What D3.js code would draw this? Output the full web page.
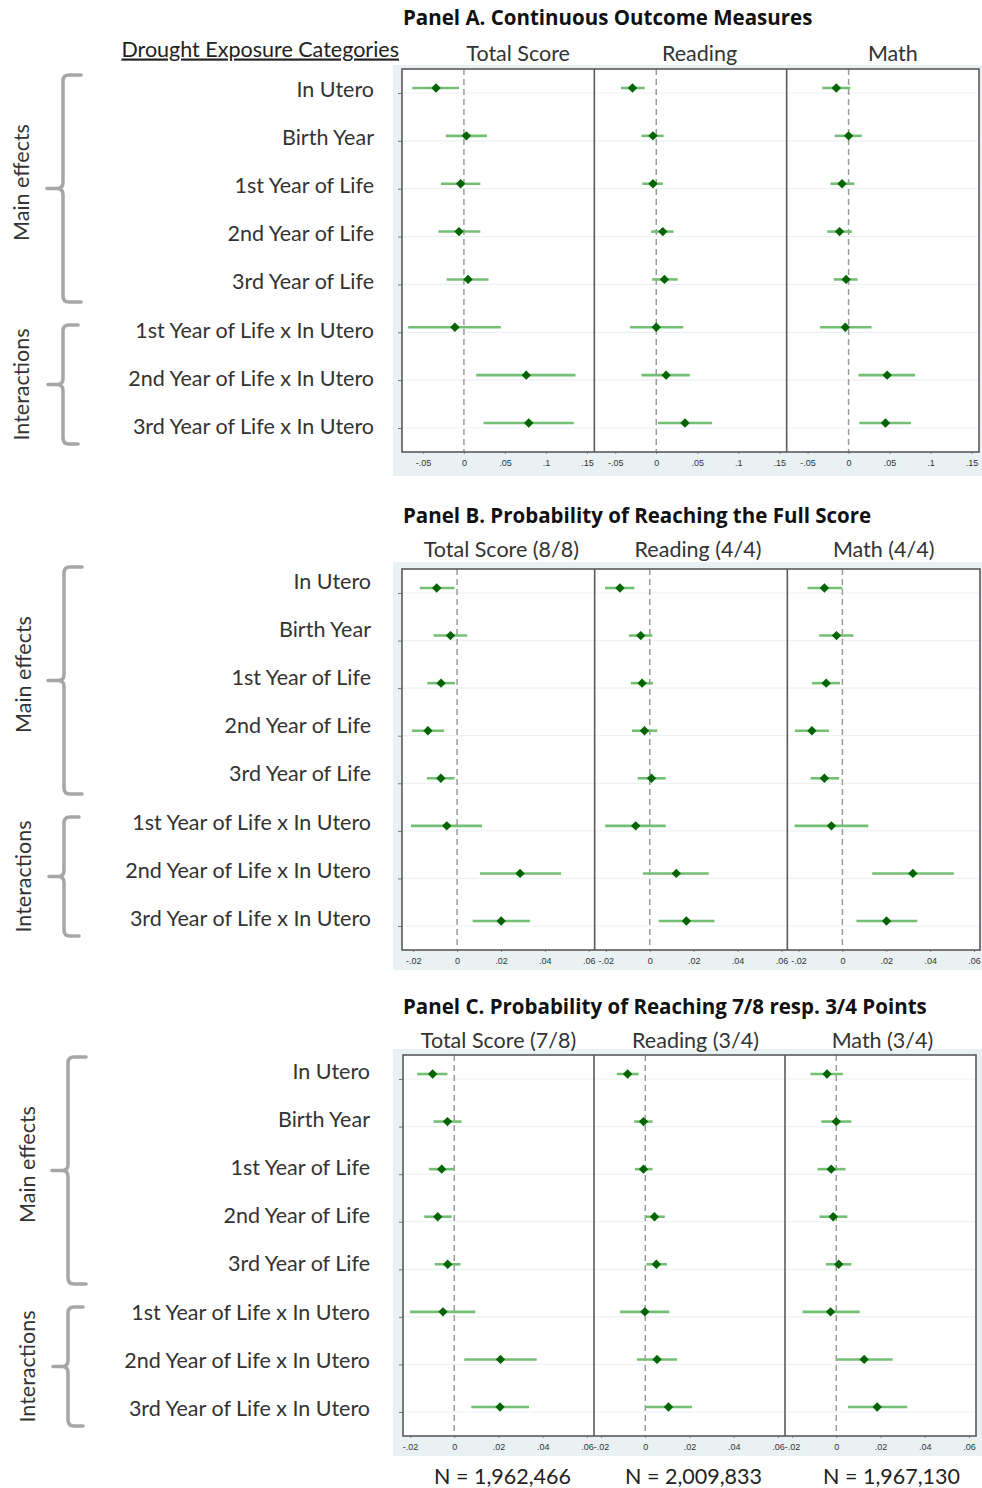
<!DOCTYPE html>
<html>
<head>
<meta charset="utf-8">
<script src="https://cdn.jsdelivr.net/npm/d3@7"></script>
<style>
  body { margin: 0; background: #fff; }
  svg { display: block; }
</style>
</head>
<body>
<div id="chart"></div>
<script>
// drought exposure categories (rows)
const rows = [
  "In Utero",
  "Birth Year",
  "1st Year of Life",
  "2nd Year of Life",
  "3rd Year of Life",
  "1st Year of Life x In Utero",
  "2nd Year of Life x In Utero",
  "3rd Year of Life x In Utero"
];

const panelTitles = [
  "Panel A. Continuous Outcome Measures",
  "Panel B. Probability of Reaching the Full Score",
  "Panel C. Probability of Reaching 7/8 resp. 3/4 Points"
];
const colTitlesA = ["Total Score", "Reading", "Math"];
const colTitlesB = ["Total Score (8/8)", "Reading (4/4)", "Math (4/4)"];
const colTitlesC = ["Total Score (7/8)", "Reading (3/4)", "Math (3/4)"];
const nLabels = ["N = 1,962,466", "N = 2,009,833", "N = 1,967,130"];

const ticksA = [-0.05, 0, 0.05, 0.1, 0.15];
const tickLabelsA = ["-.05", "0", ".05", ".1", ".15"];
const ticksBC = [-0.02, 0, 0.02, 0.04, 0.06];
const tickLabelsBC = ["-.02", "0", ".02", ".04", ".06"];

// [coefficient, lower CI, upper CI] per row
const A_total = [[-0.034,-0.063,-0.006],[0.003,-0.022,0.028],[-0.004,-0.028,0.020],[-0.006,-0.031,0.020],[0.005,-0.021,0.030],[-0.011,-0.068,0.045],[0.076,0.015,0.136],[0.079,0.024,0.134]];
const A_read  = [[-0.029,-0.043,-0.014],[-0.004,-0.018,0.009],[-0.004,-0.017,0.008],[0.008,-0.006,0.021],[0.010,-0.005,0.026],[0.000,-0.032,0.033],[0.012,-0.018,0.041],[0.035,0.002,0.068]];
const A_math  = [[-0.015,-0.032,0.002],[0.000,-0.017,0.016],[-0.008,-0.022,0.007],[-0.011,-0.026,0.004],[-0.003,-0.018,0.011],[-0.004,-0.035,0.028],[0.047,0.012,0.081],[0.045,0.013,0.076]];

const B_total = [[-0.0093,-0.0170,-0.0012],[-0.0030,-0.0107,0.0046],[-0.0073,-0.0136,-0.0010],[-0.0133,-0.0206,-0.0059],[-0.0074,-0.0138,-0.0012],[-0.0047,-0.0210,0.0114],[0.0287,0.0104,0.0474],[0.0201,0.0071,0.0333]];
const B_read  = [[-0.0136,-0.0204,-0.0070],[-0.0041,-0.0095,0.0012],[-0.0035,-0.0086,0.0015],[-0.0024,-0.0081,0.0034],[0.0008,-0.0055,0.0073],[-0.0064,-0.0203,0.0073],[0.0121,-0.0031,0.0269],[0.0167,0.0041,0.0295]];
const B_math  = [[-0.0082,-0.0159,0.0000],[-0.0027,-0.0106,0.0050],[-0.0074,-0.0139,-0.0011],[-0.0139,-0.0217,-0.0061],[-0.0082,-0.0145,-0.0015],[-0.0050,-0.0218,0.0118],[0.0321,0.0136,0.0508],[0.0201,0.0064,0.0341]];

const C_total = [[-0.0098,-0.0168,-0.0031],[-0.0031,-0.0094,0.0033],[-0.0057,-0.0115,0.0000],[-0.0075,-0.0136,-0.0012],[-0.0030,-0.0088,0.0028],[-0.0051,-0.0200,0.0095],[0.0209,0.0045,0.0373],[0.0207,0.0077,0.0338]];
const C_read  = [[-0.0080,-0.0129,-0.0030],[-0.0008,-0.0050,0.0033],[-0.0008,-0.0047,0.0033],[0.0042,-0.0002,0.0088],[0.0050,0.0005,0.0098],[-0.0002,-0.0114,0.0109],[0.0053,-0.0038,0.0144],[0.0105,0.0002,0.0211]];
const C_math  = [[-0.0042,-0.0117,0.0030],[0.0000,-0.0068,0.0068],[-0.0023,-0.0085,0.0042],[-0.0014,-0.0076,0.0050],[0.0011,-0.0047,0.0068],[-0.0026,-0.0153,0.0106],[0.0126,0.0000,0.0255],[0.0185,0.0053,0.0321]];

const width = 982;
const height = 1488;
const font = "Lato, 'Open Sans', sans-serif";
const titleFont = "'Open Sans', Lato, sans-serif";
const fs = 21.5;

const svg = d3
  .select("#chart")
  .append("svg")
  .attr("width", width)
  .attr("height", height)
  .attr("viewBox", [0, 0, width, height]);

svg.append("rect").attr("width", width).attr("height", height).attr("fill", "#fff");

const panels = [
  {
    title: panelTitles[0], cols: colTitlesA, est: [A_total, A_read, A_math],
    ticks: ticksA, tickLabels: tickLabelsA, domain: [-0.0755, 0.159],
    x0: 402, x1: 979, y0: 69, y1: 452, bg: [393, 65, 476],
    titleY: 18, headY: 53, headShift: [20, 9, 10],
    labelTop: 89, labelRight: 374, bracketX: 63, sideX: 21
  },
  {
    title: panelTitles[1], cols: colTitlesB, est: [B_total, B_read, B_math],
    ticks: ticksBC, tickLabels: tickLabelsBC, domain: [-0.0251, 0.0627],
    x0: 402, x1: 980, y0: 569, y1: 950, bg: [393, 562, 970],
    titleY: 516, headY: 549, headShift: [3, 7, 0],
    labelTop: 581, labelRight: 371, bracketX: 64, sideX: 23
  },
  {
    title: panelTitles[2], cols: colTitlesC, est: [C_total, C_read, C_math],
    ticks: ticksBC, tickLabels: tickLabelsBC, domain: [-0.0232, 0.0632],
    x0: 403, x1: 976, y0: 1055, y1: 1436, bg: [393, 1049, 1456],
    titleY: 1007, headY: 1040, headShift: [0, 6, 2],
    labelTop: 1071, labelRight: 370, bracketX: 68, sideX: 27
  }
];

function drawBracket(g, x, top, bottom, arm, nub) {
  const mid = (top + bottom) / 2;
  const r = 6;
  const p = d3.path();
  p.moveTo(x + arm, top);
  p.lineTo(x + r, top);
  p.quadraticCurveTo(x, top, x, top + r);
  p.lineTo(x, mid - r);
  p.quadraticCurveTo(x, mid, x - r, mid);
  p.lineTo(x - nub, mid);
  p.moveTo(x - r, mid);
  p.quadraticCurveTo(x, mid, x, mid + r);
  p.lineTo(x, bottom - r);
  p.quadraticCurveTo(x, bottom, x + r, bottom);
  p.lineTo(x + arm, bottom);
  g.append("path")
    .attr("d", p.toString())
    .attr("fill", "none")
    .attr("stroke", "#a6a6a6")
    .attr("stroke-width", 3.5)
    .attr("stroke-linecap", "round");
}

panels.forEach((P, pi) => {
  const g = svg.append("g");

  // grey graph region
  g.append("rect")
    .attr("x", P.bg[0])
    .attr("y", P.bg[1])
    .attr("width", width - P.bg[0])
    .attr("height", P.bg[2] - P.bg[1])
    .attr("fill", "#eaf1f3");

  g.append("text")
    .attr("x", 403)
    .attr("y", P.titleY)
    .attr("dy", "0.35em")
    .attr("font-family", titleFont)
    .attr("font-weight", "bold")
    .attr("font-size", 20.5)
    .attr("fill", "#111")
    .text(P.title);

  if (pi === 0) {
    g.append("text")
      .attr("x", 399)
      .attr("y", 49)
      .attr("dy", "0.35em")
      .attr("text-anchor", "end")
      .attr("font-family", font)
      .attr("font-size", fs)
      .attr("fill", "#222")
      .attr("text-decoration", "underline")
      .text("Drought Exposure Categories");
  }

  const y = d3.scalePoint().domain(rows).range([P.y0 + 24, P.y1 - 24]);
  const colW = (P.x1 - P.x0) / 3;

  g.append("rect")
    .attr("x", P.x0)
    .attr("y", P.y0)
    .attr("width", P.x1 - P.x0)
    .attr("height", P.y1 - P.y0)
    .attr("fill", "#fff");

  // row ticks on the left edge
  g.append("g")
    .attr("transform", `translate(${P.x0},0)`)
    .call(d3.axisLeft(y).tickSize(4).tickFormat(""))
    .call((a) => a.select(".domain").remove())
    .selectAll("line")
    .attr("stroke", "#777");

  P.est.forEach((est, ci) => {
    const x = d3
      .scaleLinear()
      .domain(P.domain)
      .range([P.x0 + ci * colW, P.x0 + (ci + 1) * colW]);
    const cg = g.append("g");

    cg.selectAll(".grid")
      .data(rows)
      .join("line")
      .attr("x1", P.x0 + ci * colW)
      .attr("x2", P.x0 + (ci + 1) * colW)
      .attr("y1", (d) => y(d))
      .attr("y2", (d) => y(d))
      .attr("stroke", "#edf2f3")
      .attr("stroke-width", 1.2);

    cg.append("line")
      .attr("x1", x(0))
      .attr("x2", x(0))
      .attr("y1", P.y0)
      .attr("y2", P.y1)
      .attr("stroke", "#9a9a9a")
      .attr("stroke-width", 1.5)
      .attr("stroke-dasharray", "6,4");

    cg.selectAll(".ci")
      .data(est)
      .join("line")
      .attr("x1", (d) => x(d[1]))
      .attr("x2", (d) => x(d[2]))
      .attr("y1", (d, i) => y(rows[i]) - 5)
      .attr("y2", (d, i) => y(rows[i]) - 5)
      .attr("stroke", "#73c073")
      .attr("stroke-width", 2.6);

    cg.selectAll(".pt")
      .data(est)
      .join("path")
      .attr("d", d3.symbol(d3.symbolDiamond2, 56))
      .attr("transform", (d, i) => `translate(${x(d[0])},${y(rows[i]) - 5})`)
      .attr("fill", "#006400");

    const ax = cg
      .append("g")
      .attr("transform", `translate(0,${P.y1})`)
      .call(
        d3.axisBottom(x)
          .tickValues(P.ticks)
          .tickFormat((d, i) => P.tickLabels[i])
          .tickSizeInner(2)
          .tickSizeOuter(0)
          .tickPadding(6)
      );
    ax.select(".domain").remove();
    ax.selectAll("line").attr("stroke", "#888");
    ax.selectAll("text")
      .attr("font-family", "'Liberation Sans', Arial, sans-serif")
      .attr("font-size", 9)
      .attr("fill", "#333");

    g.append("text")
      .attr("x", P.x0 + (ci + 0.5) * colW + P.headShift[ci])
      .attr("y", P.headY)
      .attr("dy", "0.35em")
      .attr("text-anchor", "middle")
      .attr("font-family", font)
      .attr("font-size", fs)
      .attr("fill", "#333")
      .text(P.cols[ci]);

    if (pi === 2) {
      g.append("text")
        .attr("x", P.x0 + (ci + 0.5) * colW + [4, 4, 11][ci])
        .attr("y", 1476)
        .attr("dy", "0.35em")
        .attr("text-anchor", "middle")
        .attr("font-family", font)
        .attr("font-size", fs)
        .attr("fill", "#222")
        .text(nLabels[ci]);
    }
  });

  // frame and column dividers
  g.append("rect")
    .attr("x", P.x0)
    .attr("y", P.y0)
    .attr("width", P.x1 - P.x0)
    .attr("height", P.y1 - P.y0)
    .attr("fill", "none")
    .attr("stroke", "#5a5a5a")
    .attr("stroke-width", 1.6);
  [1, 2].forEach((k) => {
    g.append("line")
      .attr("x1", P.x0 + k * colW)
      .attr("x2", P.x0 + k * colW)
      .attr("y1", P.y0)
      .attr("y2", P.y1)
      .attr("stroke", "#5a5a5a")
      .attr("stroke-width", 1.6);
  });

  // category labels on the left
  g.selectAll(".lab")
    .data(rows)
    .join("text")
    .attr("x", P.labelRight)
    .attr("y", (d, i) => P.labelTop + i * 48.2)
    .attr("dy", "0.35em")
    .attr("text-anchor", "end")
    .attr("font-family", font)
    .attr("font-size", fs)
    .attr("fill", "#333")
    .text((d) => d);

  // braces
  const mTop = P.labelTop - 14;
  const mBot = P.labelTop + 213;
  const iTop = P.labelTop + 236;
  const iBot = P.labelTop + 355;
  drawBracket(g, P.bracketX, mTop, mBot, 18, 16);
  drawBracket(g, P.bracketX, iTop, iBot, 15, 15);

  g.append("text")
    .attr("transform", `translate(${P.sideX},${(mTop + mBot) / 2 - 6}) rotate(-90)`)
    .attr("dy", "0.35em")
    .attr("text-anchor", "middle")
    .attr("font-family", font)
    .attr("font-size", fs)
    .attr("fill", "#333")
    .text("Main effects");

  g.append("text")
    .attr("transform", `translate(${P.sideX},${(iTop + iBot) / 2}) rotate(-90)`)
    .attr("dy", "0.35em")
    .attr("text-anchor", "middle")
    .attr("font-family", font)
    .attr("font-size", fs)
    .attr("fill", "#333")
    .text("Interactions");
});
</script>
</body>
</html>
